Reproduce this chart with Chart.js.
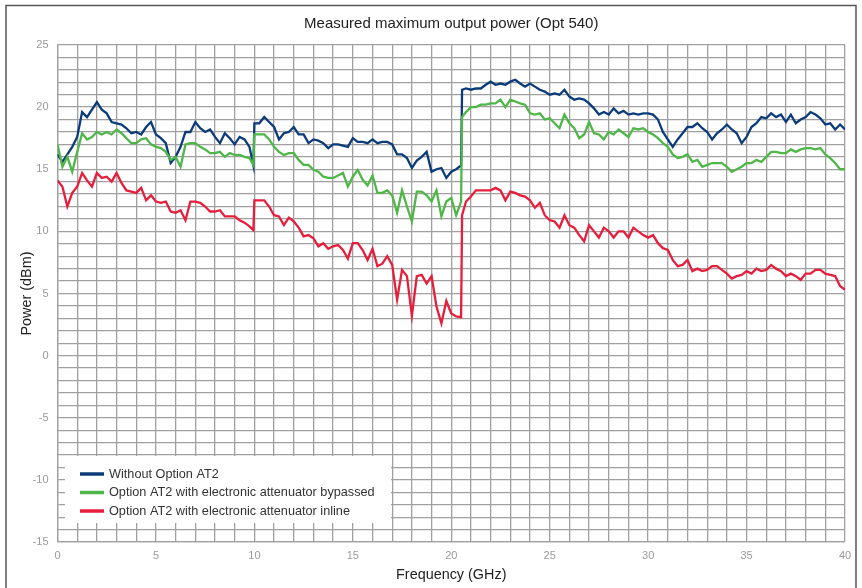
<!DOCTYPE html>
<html>
<head>
<meta charset="utf-8">
<script src="https://cdn.jsdelivr.net/npm/chart.js@4.4.0/dist/chart.umd.min.js"></script>
<style>
  html, body { margin: 0; padding: 0; background: #fff; }
  #wrap { width: 862px; height: 588px; }
</style>
</head>
<body>
<div id="wrap"><canvas id="chart" width="862" height="588"></canvas></div>
<script>
// Frequency points (GHz), shared by the three traces
const freqGHz = [
  0, 0.25, 0.5, 0.75, 1, 1.25, 1.5, 1.75, 2, 2.25,
  2.5, 2.75, 3, 3.25, 3.5, 3.75, 4, 4.25, 4.5, 4.75,
  5, 5.25, 5.5, 5.75, 6, 6.25, 6.5, 6.75, 7, 7.25,
  7.5, 7.75, 8, 8.25, 8.5, 8.75, 9, 9.25, 9.5, 9.75, 9.95,
  10, 10.25, 10.5, 10.75, 11, 11.25, 11.5, 11.75, 12, 12.25,
  12.5, 12.75, 13, 13.25, 13.5, 13.75, 14, 14.25, 14.5, 14.75,
  15, 15.25, 15.5, 15.75, 16, 16.25, 16.5, 16.75, 17, 17.25,
  17.5, 17.75, 18, 18.25, 18.5, 18.75, 19, 19.25, 19.5, 19.75,
  20, 20.25, 20.5, 20.55,
  20.75, 21, 21.25, 21.5, 21.75, 22, 22.25, 22.5,
  22.75, 23, 23.25, 23.5, 23.75, 24, 24.25, 24.5,
  24.75, 25, 25.25, 25.5, 25.75, 26, 26.25, 26.5,
  26.75, 27, 27.25, 27.5, 27.75, 28, 28.25, 28.5,
  28.75, 29, 29.25, 29.5, 29.75, 30,
  30.25, 30.5, 30.75, 31, 31.25, 31.5, 31.75, 32, 32.25, 32.5,
  32.75, 33, 33.25, 33.5, 33.75, 34, 34.25, 34.5, 34.75, 35,
  35.25, 35.5, 35.75, 36, 36.25, 36.5, 36.75, 37, 37.25, 37.5,
  37.75, 38, 38.25, 38.5, 38.75, 39, 39.25, 39.5, 39.75, 40
]

// Without Option AT2 (dBm)
const withoutAT2 = [
  16.2, 15.6, 16.2, 16.8, 17.6, 19.6, 19.2, 19.8, 20.4, 19.8,
  19.5, 18.8, 18.7, 18.6, 18.3, 17.9, 18.0, 17.8, 18.4, 18.8,
  17.8, 17.5, 17.1, 15.5, 16.0, 16.8, 18.0, 18.0, 18.8, 18.3,
  18.0, 18.2, 17.6, 17.1, 17.9, 17.5, 17.0, 17.6, 17.4, 16.8, 15.3,
  18.7, 18.7, 19.2, 18.8, 18.4, 17.4, 17.9, 18.0, 18.4, 17.8,
  17.8, 17.1, 17.4, 17.3, 17.1, 16.7, 17.0, 17.0, 16.9, 16.8,
  17.5, 17.2, 17.2, 17.1, 17.4, 17.1, 17.2, 17.2, 17.0, 16.2,
  16.2, 15.9, 15.1, 15.7, 16.0, 16.4, 14.8, 15.0, 15.1, 14.3,
  14.8, 15.0, 15.3, 21.4,
  21.5, 21.4, 21.5, 21.5, 21.8, 22.05, 21.8, 21.9,
  21.8, 22.05, 22.2, 21.9, 21.65, 21.9, 21.65, 21.4,
  21.25, 21.0, 21.1, 21.0, 21.4, 20.85, 20.6, 20.7,
  20.6, 20.3, 19.9, 19.4, 19.6, 19.4, 19.9, 19.5,
  19.7, 19.4, 19.5, 19.4, 19.5, 19.5,
  19.4, 19.0, 18.0, 17.4, 16.8, 17.4, 17.9, 18.4, 18.4, 18.7,
  18.3, 18.0, 17.4, 17.9, 18.2, 18.6, 18.2, 17.9, 17.1, 17.6,
  18.4, 18.7, 19.2, 19.1, 19.5, 19.2, 19.4, 18.8, 19.4, 18.7,
  19.0, 19.2, 19.6, 19.4, 19.1, 18.6, 18.7, 18.2, 18.6, 18.2
]

// Option AT2 with electronic attenuator bypassed (dBm)
const at2Bypassed = [
  17.0, 15.2, 16.0, 14.8, 16.4, 17.9, 17.4, 17.6, 18.0, 17.8,
  18.0, 17.8, 18.2, 17.9, 17.5, 17.1, 17.1, 17.4, 17.5, 17.0,
  16.8, 16.7, 16.4, 15.75, 16.0, 15.2, 17.0, 17.1, 17.1, 16.8,
  16.6, 16.3, 16.3, 16.4, 16.0, 16.3, 16.15, 16.15, 16.0, 15.9, 15.35,
  17.8, 17.8, 17.8, 17.4, 16.8, 16.4, 16.15, 16.3, 16.3, 15.75,
  15.35, 15.35, 14.95, 14.8, 14.4, 14.3, 14.3, 14.5, 14.7, 13.6,
  14.4, 14.95, 14.15, 13.7, 14.5, 13.1, 13.1, 13.3, 12.9, 11.5,
  13.3, 12.0, 10.8, 13.2, 13.2, 12.9, 12.4, 13.3, 11.2, 12.4,
  12.7, 11.3, 12.4, 19.2,
  19.6, 20.0, 20.0, 20.2, 20.2, 20.3, 20.3, 20.6,
  20.0, 20.6, 20.45, 20.3, 20.2, 19.5, 19.4, 19.5,
  19.0, 19.1, 18.7, 18.3, 19.4, 18.7, 18.3, 17.5,
  17.8, 18.8, 17.9, 17.8, 17.4, 18.0, 17.8, 18.2,
  17.9, 17.6, 18.3, 18.2, 18.3, 18.0,
  17.8, 17.5, 17.1, 16.8, 16.2, 15.9, 16.0, 16.2, 15.6, 15.75,
  15.2, 15.35, 15.5, 15.5, 15.5, 15.2, 14.8, 15.0, 15.2, 15.5,
  15.5, 15.75, 15.6, 16.0, 16.4, 16.4, 16.3, 16.3, 16.6, 16.4,
  16.6, 16.7, 16.7, 16.6, 16.7, 16.2, 15.9, 15.5, 15.0, 15.0
]

// Option AT2 with electronic attenuator inline (dBm)
const at2Inline = [
  14.1, 13.6, 12.0, 13.1, 13.6, 14.7, 14.1, 13.6, 14.7, 14.3,
  14.4, 14.0, 14.7, 13.9, 13.3, 13.2, 13.1, 13.5, 12.5, 12.9,
  12.4, 12.3, 12.4, 11.6, 11.5, 11.7, 10.9, 12.4, 12.4, 12.3,
  12.0, 11.6, 11.6, 11.7, 11.2, 11.2, 11.2, 10.9, 10.7, 10.4, 10.1,
  12.5, 12.5, 12.5, 12.0, 11.3, 11.2, 10.5, 11.1, 10.8, 10.3,
  9.6, 9.7, 9.45, 8.8, 9.05, 8.6, 8.8, 8.9, 8.5, 7.8,
  9.05, 9.05, 8.5, 7.7, 8.6, 7.2, 7.4, 8.0, 7.3, 4.5,
  6.9, 6.4, 3.2, 6.4, 6.5, 5.8, 6.4, 3.95, 2.6, 4.4,
  3.4, 3.15, 3.1, 11.3,
  12.4, 12.8, 13.3, 13.3, 13.3, 13.3, 13.5, 13.3,
  12.5, 13.2, 13.1, 12.9, 12.8, 12.5, 11.9, 12.3,
  11.3, 10.9, 10.8, 10.3, 11.3, 10.5, 10.3, 9.7,
  9.2, 10.5, 10.0, 9.5, 10.3, 10.0, 9.5, 10.0,
  10.0, 9.5, 10.3, 10.0, 9.7, 9.5,
  9.7, 9.05, 8.65, 8.5, 7.7, 7.2, 7.3, 7.7, 6.8, 7.0,
  6.8, 6.9, 7.2, 7.2, 6.9, 6.6, 6.2, 6.4, 6.5, 6.8,
  6.6, 7.0, 6.8, 6.9, 7.3, 7.0, 6.8, 6.4, 6.6, 6.4,
  6.1, 6.6, 6.6, 6.9, 6.9, 6.6, 6.5, 6.4, 5.6, 5.3
]

const seriesLabels = [
  'Without Option AT2',
  'Option AT2 with electronic attenuator bypassed',
  'Option AT2 with electronic attenuator inline'
]
const seriesColors = ['#0b3b7a', '#4fb648', '#e61e3c']

const toPoints = (values) => freqGHz.map((f, i) => ({ x: f, y: values[i] }))

Chart.defaults.font.family = '"Liberation Sans", Arial, sans-serif'

const frame = {
  id: 'frame',
  beforeDraw: (chart) => {
    const { ctx } = chart
    ctx.save()
    ctx.fillStyle = '#fff'
    ctx.fillRect(0, 0, chart.width, chart.height)
    ctx.strokeStyle = '#555'
    ctx.lineWidth = 1.5
    ctx.strokeRect(6, 5.5, 850, 600)
    ctx.restore()
  }
}

// legend sits inside the plot, lower left, on a white box
const legendBox = {
  id: 'legendBox',
  afterDatasetsDraw: (chart) => {
    const { ctx, chartArea } = chart
    const x = chartArea.left + 7.5
    const y = chartArea.bottom - 86
    ctx.save()
    ctx.fillStyle = '#fff'
    ctx.fillRect(x, y, 326, 67)
    chart.data.datasets.forEach((ds, i) => {
      const ly = y + 18 + i * 18.5
      ctx.strokeStyle = ds.borderColor
      ctx.lineWidth = 3.5
      ctx.beginPath()
      ctx.moveTo(x + 15, ly)
      ctx.lineTo(x + 39, ly)
      ctx.stroke()
      ctx.fillStyle = '#333'
      ctx.font = '12.7px "Liberation Sans", Arial, sans-serif'
      ctx.textBaseline = 'middle'
      ctx.fillText(ds.label, x + 44, ly)
    })
    ctx.restore()
  }
}

const everyFive = (v) => (v % 5 === 0 ? v : '')

new Chart(document.getElementById('chart').getContext('2d'), {
  type: 'line',
  data: {
    datasets: [withoutAT2, at2Bypassed, at2Inline].map((values, i) => ({
      label: seriesLabels[i],
      data: toPoints(values),
      borderColor: seriesColors[i],
      backgroundColor: seriesColors[i],
      borderWidth: 2.3,
      pointRadius: 0,
      tension: 0,
      fill: false,
      order: [1, 0, 2][i]
    }))
  },
  options: {
    responsive: false,
    animation: false,
    layout: { padding: { top: 0, right: 17, bottom: 0, left: 0 } },
    plugins: {
      legend: { display: false },
      tooltip: { enabled: false },
      title: {
        display: true,
        fullSize: false,
        text: 'Measured maximum output power (Opt 540)',
        color: '#222',
        font: { size: 15, weight: 'normal' },
        padding: { top: 15, bottom: 12 }
      }
    },
    scales: {
      x: {
        type: 'linear',
        min: 0,
        max: 40,
        ticks: { stepSize: 1, autoSkip: false, maxRotation: 0, color: '#9a9a9a', font: { size: 11 }, padding: 7, callback: everyFive },
        grid: { color: '#a0a0a0', lineWidth: 1.3, drawTicks: false },
        border: { color: '#a0a0a0', width: 1.3 },
        title: { display: true, text: 'Frequency (GHz)', color: '#222', font: { size: 14.4 }, padding: { top: 0, bottom: 4 } },
        afterFit: (scale) => { scale.height = 46 }
      },
      y: {
        min: -15,
        max: 25,
        ticks: { stepSize: 1, autoSkip: false, color: '#9a9a9a', font: { size: 11 }, padding: 9, callback: everyFive },
        grid: { color: '#a0a0a0', lineWidth: 1.3, drawTicks: false },
        border: { color: '#a0a0a0', width: 1.3 },
        title: { display: true, text: 'Power (dBm)', color: '#222', font: { size: 14.4 }, padding: { top: 18, bottom: 0 } },
        afterFit: (scale) => { scale.width = 57.5 }
      }
    }
  },
  plugins: [frame, legendBox]
})
</script>
</body>
</html>
